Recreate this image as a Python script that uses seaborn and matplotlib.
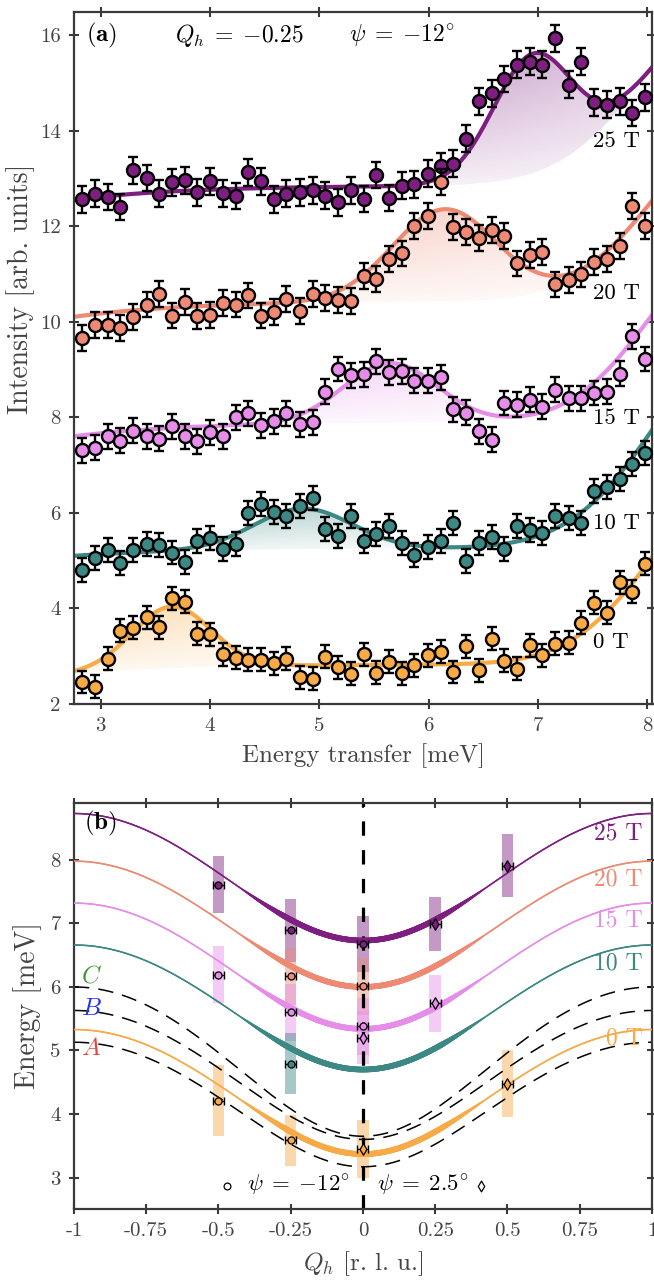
import numpy as np
import pandas as pd
import matplotlib
matplotlib.use("Agg")
import matplotlib.pyplot as plt
import seaborn as sns
from matplotlib.collections import LineCollection
from matplotlib.patches import Polygon
from matplotlib.colors import to_rgb

# ---------------- data: panel (a) ----------------
energy = [2.83, 2.95, 3.07, 3.18, 3.30, 3.42, 3.53, 3.65, 3.77, 3.88, 4.00, 4.12, 4.24, 4.35, 4.47,
          4.59, 4.70, 4.82, 4.94, 5.05, 5.17, 5.29, 5.41, 5.52, 5.64, 5.76, 5.87, 5.99, 6.11, 6.22,
          6.34, 6.46, 6.58, 6.69, 6.81, 6.93, 7.04, 7.16, 7.28, 7.39, 7.51, 7.63, 7.75, 7.86, 7.98]

fields = ["0 T", "10 T", "15 T", "20 T", "25 T"]
colors = ["#F7AA45", "#3B8884", "#E58DE8", "#EE8A73", "#7E1E80"]

I_0T = [2.46, 2.36, 2.95, 3.53, 3.60, 3.82, 3.61, 4.21, 4.14, 3.47, 3.46, 3.04, 2.97, 2.93, 2.93,
        2.85, 2.95, 2.56, 2.53, 2.99, 2.77, 2.63, 3.04, 2.65, 2.88, 2.64, 2.81, 3.02, 3.09, 2.67,
        3.21, 2.71, 3.37, 2.91, 2.74, 3.23, 3.02, 3.26, 3.28, 3.70, 4.12, 3.91, 4.55, 4.35, 4.94]
I_10T = [4.80, 5.06, 5.23, 4.96, 5.22, 5.34, 5.33, 5.17, 4.97, 5.42, 5.48, 5.25, 5.35, 6.00, 6.19,
         6.01, 5.93, 6.14, 6.31, 5.67, 5.51, 5.93, 5.42, 5.56, 5.72, 5.37, 5.11, 5.29, 5.42, 5.79,
         4.99, 5.37, 5.50, 5.25, 5.72, 5.65, 5.58, 5.93, 5.90, 5.78, 6.45, 6.54, 6.71, 7.03, 7.26]
I_15T = [7.31, 7.36, 7.60, 7.51, 7.72, 7.60, 7.55, 7.81, 7.60, 7.50, 7.69, 7.60, 8.00, 8.08, 7.83,
         7.92, 8.08, 7.85, 7.90, 8.54, 9.01, 8.88, 8.90, 9.17, 8.94, 8.96, 8.77, 8.77, 8.84, 8.17,
         8.10, 7.71, 7.53, 8.30, 8.26, 8.37, 8.22, 8.58, 8.40, 8.40, 8.51, 8.54, 8.91, 9.70, 9.22]
I_20T = [9.66, 9.93, 9.93, 9.87, 10.10, 10.36, 10.58, 10.13, 10.41, 10.12, 10.14, 10.40, 10.36, 10.55, 10.13,
         10.20, 10.48, 10.22, 10.58, 10.50, 10.45, 10.43, 10.95, 10.90, 11.32, 11.43, 12.00, 12.22, 12.92, 11.99,
         11.87, 11.76, 11.92, 11.80, 11.22, 11.39, 11.46, 10.78, 10.88, 10.99, 11.25, 11.32, 11.58, 12.42, 12.00]
I_25T = [12.56, 12.68, 12.61, 12.40, 13.17, 13.01, 12.68, 12.92, 12.96, 12.71, 12.94, 12.69, 12.63, 13.13, 12.94,
         12.56, 12.68, 12.71, 12.75, 12.64, 12.50, 12.75, 12.57, 13.07, 12.59, 12.85, 12.88, 13.10, 13.26, 13.31,
         13.83, 14.61, 14.78, 15.08, 15.38, 15.44, 15.38, 15.93, 14.96, 15.44, 14.59, 14.54, 14.61, 14.37, 14.70]
intensities = [I_0T, I_10T, I_15T, I_20T, I_25T]
errors = [0.24, 0.25, 0.26, 0.27, 0.28]

# fitted model parameters
bg0 = [2.63, 5.10, 7.60, 10.10, 12.55]
bg1 = [0.20, 0.16, 0.30, 0.33, 0.30]
main_c = [3.65, 4.85, 5.65, 6.15, 6.95]
main_a = [1.29, 0.85, 1.25, 1.93, 2.50]
main_s = [0.36, 0.45, 0.43, 0.48, 0.365]
high_c = [8.8, 8.9, 8.7, 8.8, 8.8]
high_a = [3.71, 4.39, 3.48, 3.50, 3.83]
high_s = [0.75, 0.80, 0.70, 0.75, 0.80]

label_a_y = [3.30, 5.79, 7.99, 10.60, 13.78]

# ---------------- data: panel (b) ----------------
q_ticks = [-1, -0.75, -0.5, -0.25, 0, 0.25, 0.5, 0.75, 1]
q_labels = ["-1", "-0.75", "-0.5", "-0.25", "0", "0.25", "0.5", "0.75", "1"]
disp_min = [3.37, 4.70, 5.34, 6.00, 6.73]
disp_max = [5.33, 6.66, 7.32, 7.98, 8.73]
label_b_y = [5.19, 6.37, 7.04, 7.69, 8.42]

abc_names = ["A", "B", "C"]
abc_min = [3.17, 3.60, 3.65]
abc_max = [5.13, 5.63, 6.00]
abc_colors = ["#E8443A", "#2233EE", "#3E9A32"]
abc_label_y = [5.02, 5.65, 6.17]

pt_field = [4, 4, 4, 4, 4, 3, 3, 2, 2, 2, 2, 2, 1, 0, 0, 0, 0]
pt_q = [-0.5, -0.25, 0, 0.25, 0.5, -0.25, 0, -0.5, -0.25, 0, 0, 0.25, -0.25, -0.5, -0.25, 0, 0.5]
pt_E = [7.61, 6.89, 6.67, 6.99, 7.91, 6.17, 6.01, 6.19, 5.60, 5.38, 5.20, 5.74, 4.79, 4.21, 3.59, 3.45, 4.48]
pt_marker = ["o", "o", "o", "d", "d", "o", "o", "o", "o", "o", "d", "d", "o", "o", "o", "d", "d"]
pt_halfwidth = [0.45, 0.50, 0.44, 0.43, 0.50, 0.45, 0.45, 0.45, 0.45, 0.45, 0.42, 0.45, 0.48, 0.56, 0.40, 0.46, 0.53]
pt_qerr = 0.019

# ---------------- style ----------------
sns.set_theme(style="ticks")
plt.rcParams["font.family"] = ["cmr10", "DejaVu Serif"]
plt.rcParams["mathtext.fontset"] = "cm"
spine_c = "#3a3a3a"
text_c = "#444444"

fig = plt.figure(figsize=(6.54, 12.8), dpi=100)
ax_a = fig.add_axes([0.1131, 0.4500, 0.8843, 0.5409])
ax_b = fig.add_axes([0.1131, 0.0552, 0.8838, 0.3177])


def style_axes(ax):
    for s in ax.spines.values():
        s.set_color(spine_c)
        s.set_linewidth(1.6)
        s.set_visible(True)
    ax.tick_params(which="both", direction="inout", length=7, width=1.5, color=spine_c,
                   top=True, right=True, labelsize=15, labelcolor=text_c, pad=6)


def grad_fill(ax, x, lo, hi, color, amax, z):
    rgb = to_rgb(color)
    verts = np.column_stack([np.r_[x, x[::-1]], np.r_[hi, lo[::-1]]])
    poly = Polygon(verts, closed=True, fc="none", ec="none")
    ax.add_patch(poly)
    x0, x1 = x.min(), x.max()
    y0, y1 = lo.min(), hi.max()
    nx, ny = 200, 120
    gx = np.linspace(0, 1, nx)[None, :]
    gy = np.linspace(0, 1, ny)[:, None]
    a = amax * (0.15 + 0.85 * gy) * (1 - 0.45 * gx)
    img = np.zeros((ny, nx, 4))
    img[..., :3] = rgb
    img[..., 3] = np.clip(a, 0, 1)
    im = ax.imshow(img, extent=[x0, x1, y0, y1], origin="lower", aspect="auto",
                   zorder=z, interpolation="bilinear")
    im.set_clip_path(poly)


# ---------------- panel (a) ----------------
ax = ax_a
Eg = np.linspace(2.70, 8.10, 700)
for k in range(5):
    bg = bg0[k] + bg1[k] * (1 - np.exp(-(Eg - 2.75) / 1.0))
    main = main_a[k] * np.exp(-(Eg - main_c[k]) ** 2 / (2 * main_s[k] ** 2))
    high = high_a[k] * np.exp(-(Eg - high_c[k]) ** 2 / (2 * high_s[k] ** 2))
    total = bg + main + high
    lower = bg + high
    m = (Eg >= max(2.76, main_c[k] - 2.4 * main_s[k])) & (Eg <= main_c[k] + 2.3 * main_s[k])
    grad_fill(ax, Eg[m], lower[m], total[m], colors[k], 0.45, 1)
    ax.plot(Eg, total, color=colors[k], lw=3.0, zorder=2, solid_capstyle="butt")

for k in [4, 3, 2, 1, 0]:
    df = pd.DataFrame({"E": energy, "I": intensities[k]})
    ax.errorbar(df["E"], df["I"], yerr=errors[k], fmt="none", ecolor="black",
                elinewidth=1.7, capsize=3.4, capthick=1.7, zorder=3 + (4 - k) * 0.1)
    sns.scatterplot(data=df, x="E", y="I", ax=ax, color=colors[k], s=88, edgecolor="black",
                    linewidth=1.7, zorder=3.05 + (4 - k) * 0.1, legend=False)
    ax.text(7.5, label_a_y[k], fields[k], fontsize=16.5, color="black", ha="left", va="center", zorder=6)

ax.set_xlim(2.756, 8.046)
ax.set_ylim(2.0, 16.49)
ax.set_xticks([3, 4, 5, 6, 7, 8])
ax.set_xticklabels(["3", "4", "5", "6", "7", "8"])
ax.set_yticks([2, 4, 6, 8, 10, 12, 14, 16])
ax.set_yticklabels(["2", "4", "6", "8", "10", "12", "14", "16"])
ax.set_xlabel("Energy transfer [meV]", fontsize=18, color=text_c, labelpad=6)
ax.set_ylabel("Intensity [arb. units]", fontsize=20, color=text_c)
ax.yaxis.set_label_coords(-0.068, 0.60)
style_axes(ax)
ax.text(2.87, 16.0, r"$\mathbf{(a)}$", fontsize=18, ha="left", va="center", color="black")
ax.text(3.684, 16.0, r"$Q_h\;=\;{-0.25}$", fontsize=17, ha="left", va="center", color="black")
ax.text(5.27, 16.0, r"$\psi\;=\;{-12^{\circ}}$", fontsize=17, ha="left", va="center", color="black")

# ---------------- panel (b) ----------------
ax = ax_b
qg = np.linspace(-1, 1, 801)


def disp(emin, emax, q):
    a = (emax ** 2 + emin ** 2) / 2
    b = (emax ** 2 - emin ** 2) / 2
    return np.sqrt(a - b * np.cos(np.pi * q))


# translucent energy-width bars
for k in range(len(pt_q)):
    f = pt_field[k]
    ax.bar(pt_q[k], 2 * pt_halfwidth[k], bottom=pt_E[k] - pt_halfwidth[k], width=0.04,
           color=colors[f], alpha=0.45, linewidth=0, zorder=1)

# dashed A, B, C
for j in range(3):
    ax.plot(qg, disp(abc_min[j], abc_max[j], qg), color="black", lw=1.1,
            dashes=(10, 6), zorder=2)
    ax.text(-0.975, abc_label_y[j], "$" + abc_names[j] + "$", color=abc_colors[j],
            fontsize=18, ha="left", va="center", zorder=6)

# dispersion curves, thicker near zone centre
wprof = np.clip((0.42 - np.abs(qg)) / 0.15, 0, 1)
for k in range(5):
    Ed = disp(disp_min[k], disp_max[k], qg)
    pts = np.column_stack([qg, Ed]).reshape(-1, 1, 2)
    segs = np.concatenate([pts[:-1], pts[1:]], axis=1)
    lws = 1.1 + 3.0 * 0.5 * (wprof[:-1] + wprof[1:])
    lc = LineCollection(segs, colors=colors[k], linewidths=lws, zorder=3, capstyle="round")
    ax.add_collection(lc)
    xl = 0.84 if k == 0 else 0.80
    ax.text(xl, label_b_y[k], fields[k], color=colors[k], fontsize=17,
            ha="left", va="center", zorder=6)

ax.axvline(0, color="black", lw=2.3, dashes=(4.5, 4.5), zorder=2.5)

# data points
for k in range(len(pt_q)):
    f = pt_field[k]
    ax.errorbar(pt_q[k], pt_E[k], xerr=pt_qerr, fmt="none", ecolor="black", elinewidth=1.0,
                capsize=3.0, capthick=1.0, zorder=4)
    sns.scatterplot(x=[pt_q[k]], y=[pt_E[k]], ax=ax, marker=pt_marker[k], color=colors[f],
                    s=26 if pt_marker[k] == "o" else 34, edgecolor="black", linewidth=0.9,
                    zorder=5, legend=False)

# marker key
sns.scatterplot(x=[-0.47], y=[2.87], ax=ax, marker="o", color="white", edgecolor="black",
                s=24, linewidth=0.9, zorder=5, legend=False)
sns.scatterplot(x=[0.41], y=[2.87], ax=ax, marker="d", color="white", edgecolor="black",
                s=30, linewidth=0.9, zorder=5, legend=False)
ax.text(-0.40, 2.87, r"$\psi\;=\;{-12^{\circ}}$", fontsize=16.5, ha="left", va="center", color="black")
ax.text(0.05, 2.87, r"$\psi\;=\;2.5^{\circ}$", fontsize=16.5, ha="left", va="center", color="black")
ax.text(-0.965, 8.58, r"$\mathbf{(b)}$", fontsize=18, ha="left", va="center", color="black", zorder=6)

ax.set_xlim(-1, 1)
ax.set_ylim(2.5, 8.9)
ax.set_xticks(q_ticks)
ax.set_xticklabels(q_labels)
ax.set_yticks([3, 4, 5, 6, 7, 8])
ax.set_yticklabels(["3", "4", "5", "6", "7", "8"])
ax.set_xlabel(r"$Q_h$ [r. l. u.]", fontsize=18, color=text_c, labelpad=6)
ax.set_ylabel("Energy [meV]", fontsize=20, color=text_c, labelpad=6)
style_axes(ax)

fig.savefig("out.png", dpi=100)
